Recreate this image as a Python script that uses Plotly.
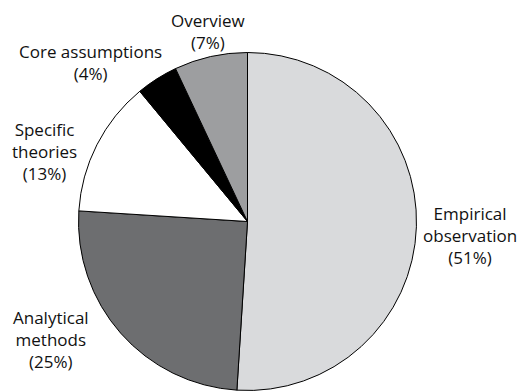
import plotly.graph_objects as go

labels = ["Empirical observation", "Analytical methods", "Specific theories", "Core assumptions", "Overview"]
label_lines = ["Empirical<br>observation", "Analytical<br>methods", "Specific<br>theories", "Core assumptions", "Overview"]
values = [51, 25, 13, 4, 7]
colors = ["#d9dadc", "#6d6e70", "#ffffff", "#000000", "#9d9ea0"]

W, H = 528, 391
# label block centres in pixels (layout only)
label_pos = [(470, 235), (51, 339), (44, 151), (90, 62), (208, 32)]

fig = go.Figure(go.Pie(
    labels=labels, values=values, sort=False, direction="clockwise", rotation=0,
    marker=dict(colors=colors, line=dict(color="#000000", width=1)),
    textinfo="none", hoverinfo="label+percent", showlegend=False,
    domain=dict(x=[78.5 / W, 416.5 / W], y=[0.0 / H, 1 - 52 / H]),
))

total = sum(values)
for txt, v, (px, py) in zip(label_lines, values, label_pos):
    pct = round(100 * v / total)
    fig.add_annotation(
        x=px / W, y=1 - py / H, xref="paper", yref="paper",
        text=f"{txt}<br>({pct}%)", showarrow=False, align="center",
        xanchor="center", yanchor="middle",
        font=dict(family="Open Sans", size=17, color="#111111"),
    )

fig.update_layout(
    width=W, height=H, margin=dict(l=0, r=0, t=0, b=0),
    paper_bgcolor="white", plot_bgcolor="white",
)
fig.write_html("out.html")
